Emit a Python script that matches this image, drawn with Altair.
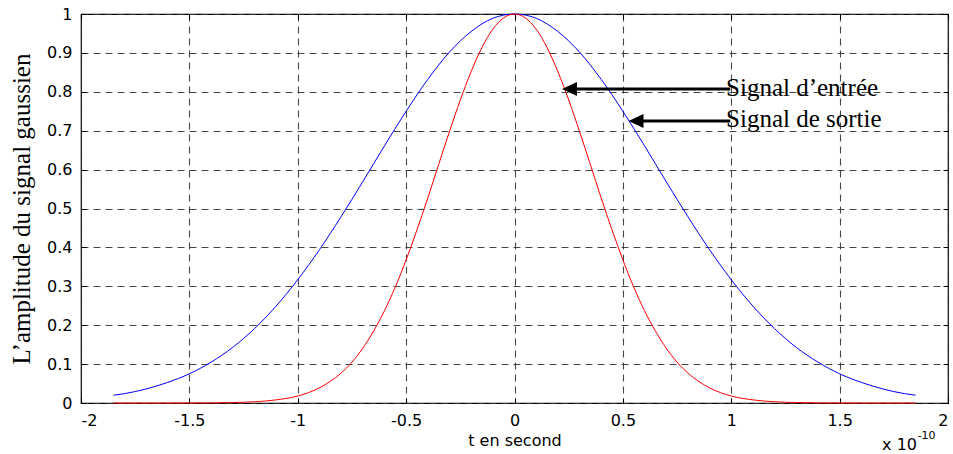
import altair as alt
import pandas as pd

# ---- data ----
x_ticks = [-2, -1.5, -1, -0.5, 0, 0.5, 1, 1.5, 2]
y_ticks = [0, 0.1, 0.2, 0.3, 0.4, 0.5, 0.6, 0.7, 0.8, 0.9, 1]

blue_t = [-1.85, -1.8, -1.7, -1.6, -1.5, -1.4, -1.3, -1.2, -1.1, -1.0, -0.9, -0.8, -0.7, -0.6,
          -0.5, -0.4, -0.3, -0.2, -0.1, 0.0, 0.1, 0.2, 0.3, 0.4, 0.5, 0.6, 0.7, 0.8, 0.9, 1.0,
          1.1, 1.2, 1.3, 1.4, 1.5, 1.6, 1.7, 1.8, 1.85]
blue_y = [0.020, 0.024, 0.036, 0.053, 0.075, 0.105, 0.143, 0.191, 0.249, 0.317, 0.394, 0.479,
          0.569, 0.661, 0.750, 0.832, 0.902, 0.955, 0.989, 1.000, 0.989, 0.955, 0.902, 0.832,
          0.750, 0.661, 0.569, 0.479, 0.394, 0.317, 0.249, 0.191, 0.143, 0.105, 0.075, 0.053,
          0.036, 0.024, 0.020]

red_t = [-1.85, -1.8, -1.7, -1.6, -1.5, -1.4, -1.3, -1.2, -1.1, -1.0, -0.9, -0.8, -0.75, -0.7,
         -0.65, -0.6, -0.55, -0.5, -0.45, -0.4, -0.35, -0.3, -0.25, -0.2, -0.15, -0.1, -0.05,
         0.0, 0.05, 0.1, 0.15, 0.2, 0.25, 0.3, 0.35, 0.4, 0.45, 0.5, 0.55, 0.6, 0.65, 0.7, 0.75,
         0.8, 0.9, 1.0, 1.1, 1.2, 1.3, 1.4, 1.5, 1.6, 1.7, 1.8, 1.85]
red_y = [0, 0, 0, 0, 0.0001, 0.0004, 0.0012, 0.0032, 0.008, 0.018, 0.039, 0.077, 0.105, 0.141,
         0.185, 0.237, 0.298, 0.368, 0.445, 0.527, 0.613, 0.698, 0.779, 0.852, 0.914, 0.961,
         0.990, 1.0, 0.990, 0.961, 0.914, 0.852, 0.779, 0.698, 0.613, 0.527, 0.445, 0.368,
         0.298, 0.237, 0.185, 0.141, 0.105, 0.077, 0.039, 0.018, 0.008, 0.0032, 0.0012, 0.0004,
         0.0001, 0, 0, 0, 0]

label_text = ["Signal d\u2019entrée", "Signal de sortie"]
label_t = [0.976, 0.976]
label_y = [0.789, 0.710]
arrow_tip_t = [0.219, 0.526]
arrow_tail_t = [0.995, 0.995]
arrow_y = [0.807, 0.725]

x_title = "t en second"
y_title = "L\u2019amplitude du signal gaussien"
exp_base = ["x 10"]
exp_sup = ["-10"]

# ---- tables ----
blue_df = pd.DataFrame({"t": blue_t, "v": blue_y})
red_df = pd.DataFrame({"t": red_t, "v": red_y})
lab_df = pd.DataFrame({"t": label_t, "v": label_y, "txt": label_text})
arr_df = pd.DataFrame({"tip": arrow_tip_t, "tail": arrow_tail_t, "v": arrow_y})
exp_df = pd.DataFrame({"t": [1.857], "v": [-0.12], "txt": exp_base})
sup_df = pd.DataFrame({"t": [1.86], "v": [-0.092], "txt": exp_sup})

xs = alt.Scale(domain=[-2, 2], nice=False, zero=False)
ys = alt.Scale(domain=[0, 1], nice=False, zero=False)
SANS = "DejaVu Sans"
GRID = "#333333"

x_axis_main = alt.Axis(
    values=x_ticks, labelExpr="'' + datum.value", orient="bottom", offset=-5,
    tickSize=5, tickColor="black", tickWidth=1, domain=False,
    grid=True, gridColor=GRID, gridDash=[7, 5], gridWidth=1.1, gridOpacity=0.9,
    labelFont=SANS, labelFontSize=16, labelColor="black", labelPadding=9,
    title=x_title, titleFont=SANS, titleFontSize=16, titleFontWeight="normal",
    titleColor="black", titlePadding=4,
)
y_axis_main = alt.Axis(
    values=y_ticks, labelExpr="'' + datum.value", orient="left", offset=-5,
    tickSize=5, tickColor="black", tickWidth=1, domain=False,
    grid=True, gridColor=GRID, gridDash=[7, 5], gridWidth=1.1, gridOpacity=0.9,
    labelFont=SANS, labelFontSize=16, labelColor="black", labelPadding=9,
    title=y_title, titleFont="Liberation Serif", titleFontSize=25, titleFontWeight="normal",
    titleColor="black", titlePadding=12,
)
x_axis_top = alt.Axis(values=x_ticks, orient="top", offset=-5, tickSize=5, tickColor="black",
                      domain=False, grid=False, labels=False, title=None)
y_axis_right = alt.Axis(values=y_ticks, orient="right", offset=-5, tickSize=5, tickColor="black",
                        domain=False, grid=False, labels=False, title=None)

blue_line = alt.Chart(blue_df).mark_line(color="#0000ff", strokeWidth=1, interpolate="monotone").encode(
    x=alt.X("t:Q", scale=xs, axis=x_axis_main),
    y=alt.Y("v:Q", scale=ys, axis=y_axis_main),
)
red_line = alt.Chart(red_df).mark_line(color="#ff0000", strokeWidth=1, interpolate="monotone").encode(
    x=alt.X("t:Q", scale=xs, axis=None),
    y=alt.Y("v:Q", scale=ys, axis=None),
)
ticks_layer = alt.Chart(blue_df).mark_point(opacity=0).encode(
    x=alt.X("t:Q", scale=xs, axis=x_axis_top),
    y=alt.Y("v:Q", scale=ys, axis=y_axis_right),
)
arrow_lines = alt.Chart(arr_df).mark_rule(color="black", strokeWidth=3).transform_calculate(
    start="datum.tip + 0.03"
).encode(
    x=alt.X("start:Q", scale=xs, axis=None),
    x2="tail:Q",
    y=alt.Y("v:Q", scale=ys, axis=None),
)
arrow_heads = alt.Chart(arr_df).mark_point(
    shape="M0,0L2,-0.93L2,0.93Z", filled=True, size=225, color="black", opacity=1
).encode(
    x=alt.X("tip:Q", scale=xs, axis=None),
    y=alt.Y("v:Q", scale=ys, axis=None),
)
labels = alt.Chart(lab_df).mark_text(
    align="left", baseline="alphabetic", font="Liberation Serif", fontSize=25, color="black"
).encode(
    x=alt.X("t:Q", scale=xs, axis=None),
    y=alt.Y("v:Q", scale=ys, axis=None),
    text="txt:N",
)
exp_text = alt.Chart(exp_df).mark_text(
    align="right", baseline="alphabetic", font=SANS, fontSize=16, color="black", clip=False
).encode(
    x=alt.X("t:Q", scale=xs, axis=None),
    y=alt.Y("v:Q", scale=ys, axis=None),
    text="txt:N",
)
sup_text = alt.Chart(sup_df).mark_text(
    align="left", baseline="alphabetic", font=SANS, fontSize=11, color="black", clip=False
).encode(
    x=alt.X("t:Q", scale=xs, axis=None),
    y=alt.Y("v:Q", scale=ys, axis=None),
    text="txt:N",
)

chart = alt.layer(
    blue_line, red_line, ticks_layer, arrow_lines, arrow_heads, labels, exp_text, sup_text
).resolve_axis(x="independent", y="independent").properties(
    width=867, height=389,
    autosize=alt.AutoSizeParams(type="none"),
    padding={"left": 81, "top": 14, "right": 5, "bottom": 51},
    background="white",
).configure_view(stroke="black", strokeWidth=1.2)

chart.save("out.html", embed_options={"renderer": "svg", "actions": False})
